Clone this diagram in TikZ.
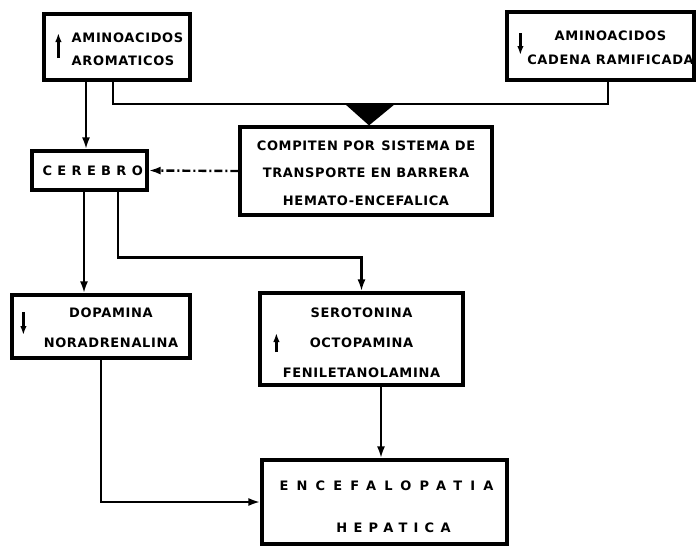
\documentclass[tikz,border=0pt]{standalone}
\usepackage{fontspec}
\setmainfont{DejaVu Sans}[LetterSpace=5]
\usetikzlibrary{arrows.meta}
\newcommand{\wide}[1]{\addfontfeature{LetterSpace=#1}}
\newcommand{\drop}[1]{\rule{0pt}{#1}}
\begin{document}
\begin{tikzpicture}[x=1pt,y=-1pt,
  box/.style={draw,line width=3.2pt,align=center,inner sep=0pt},
  arr/.style={line width=2.4pt,-{Latex[length=12pt,width=8pt]}},
  link/.style={line width=2.4pt},
  tick/.style={line width=2.2pt,-{Latex[length=9pt,width=6.5pt]}}]
  \useasboundingbox (0,0) rectangle (698,546);
  % boxes
  \node[box,align=left,minimum width=146pt,minimum height=66pt,font=\fontsize{13}{23}\selectfont\bfseries]
    (arom) at (117,47) {\drop{14.5pt}\hspace*{21pt}AMINOACIDOS\\\hspace*{21pt}AROMATICOS};
  \node[box,minimum width=187pt,minimum height=68pt,font=\fontsize{13}{24}\selectfont\bfseries]
    (ram) at (600.5,46) {\drop{13pt}\hspace*{20pt}AMINOACIDOS\\\hspace*{20pt}CADENA RAMIFICADA};
  \node[box,minimum width=252pt,minimum height=88pt,font=\fontsize{13}{27.5}\selectfont\bfseries]
    (comp) at (366,171) {\drop{13.5pt}COMPITEN POR\enspace SISTEMA DE\\TRANSPORTE EN BARRERA\\HEMATO-ENCEFALICA};
  \node[box,minimum width=115pt,minimum height=39pt,font=\fontsize{13}{16}\selectfont\bfseries\wide{41}]
    (cer) at (89.5,170.5) {\hspace*{6.5pt}CEREBRO};
  \node[box,minimum width=178pt,minimum height=63pt,font=\fontsize{13}{30}\selectfont\bfseries]
    (dop) at (101,326.5) {\drop{11.5pt}\hspace*{20pt}DOPAMINA\\\hspace*{20pt}NORADRENALINA};
  \node[box,minimum width=203pt,minimum height=92pt,font=\fontsize{13}{30}\selectfont\bfseries]
    (ser) at (361.5,339) {\drop{17.5pt}SEROTONINA\\OCTOPAMINA\\FENILETANOLAMINA};
  \node[box,minimum width=245pt,minimum height=84pt,font=\fontsize{13}{42}\selectfont\bfseries]
    (enc) at (384.5,502) {\drop{19.5pt}\wide{63}\hspace*{4pt}ENCEFALOPATIA\\\wide{48}\hspace*{18pt}HEPATICA};
  % up / down marks
  \draw[tick] ([xshift=16pt,yshift=-11pt]arom.west) -- ++(0pt,25pt);
  \draw[tick] ([xshift=15pt,yshift=13pt]ram.west) -- ++(0pt,-22pt);
  \draw[tick] ([xshift=13pt,yshift=14.5pt]dop.west) -- ++(0pt,-23pt);
  \draw[tick] ([xshift=18pt,yshift=-13pt]ser.west) -- ++(0pt,19pt);
  % connectors
  \coordinate (bus) at (0,104);
  \draw[link] ([xshift=-4pt]arom.south) |- ([xshift=7.5pt]ram.south |- bus) -- ([xshift=7.5pt]ram.south);
  \fill ([xshift=-21pt]comp.north |- bus) -- ([xshift=29pt]comp.north |- bus) -- ([xshift=3pt]comp.north) -- cycle;
  \draw[arr] ([xshift=-31pt]arom.south) -- ([xshift=-31pt]arom.south |- cer.north);
  \draw[arr,dash pattern=on 8pt off 3pt on 2pt off 3pt] (comp.west) -- (cer.east);
  \draw[arr] ([xshift=-5.5pt]cer.south) -- ([xshift=-5.5pt]cer.south |- dop.north);
  \draw[arr] ([xshift=28.5pt]cer.south) |- ([yshift=34pt]ser.north) -- (ser.north);
  \draw[arr] ([xshift=19.5pt]ser.south) -- ([xshift=19.5pt]ser.south |- enc.north);
  \draw[arr] (dop.south) |- (enc.west);
\end{tikzpicture}
\end{document}
